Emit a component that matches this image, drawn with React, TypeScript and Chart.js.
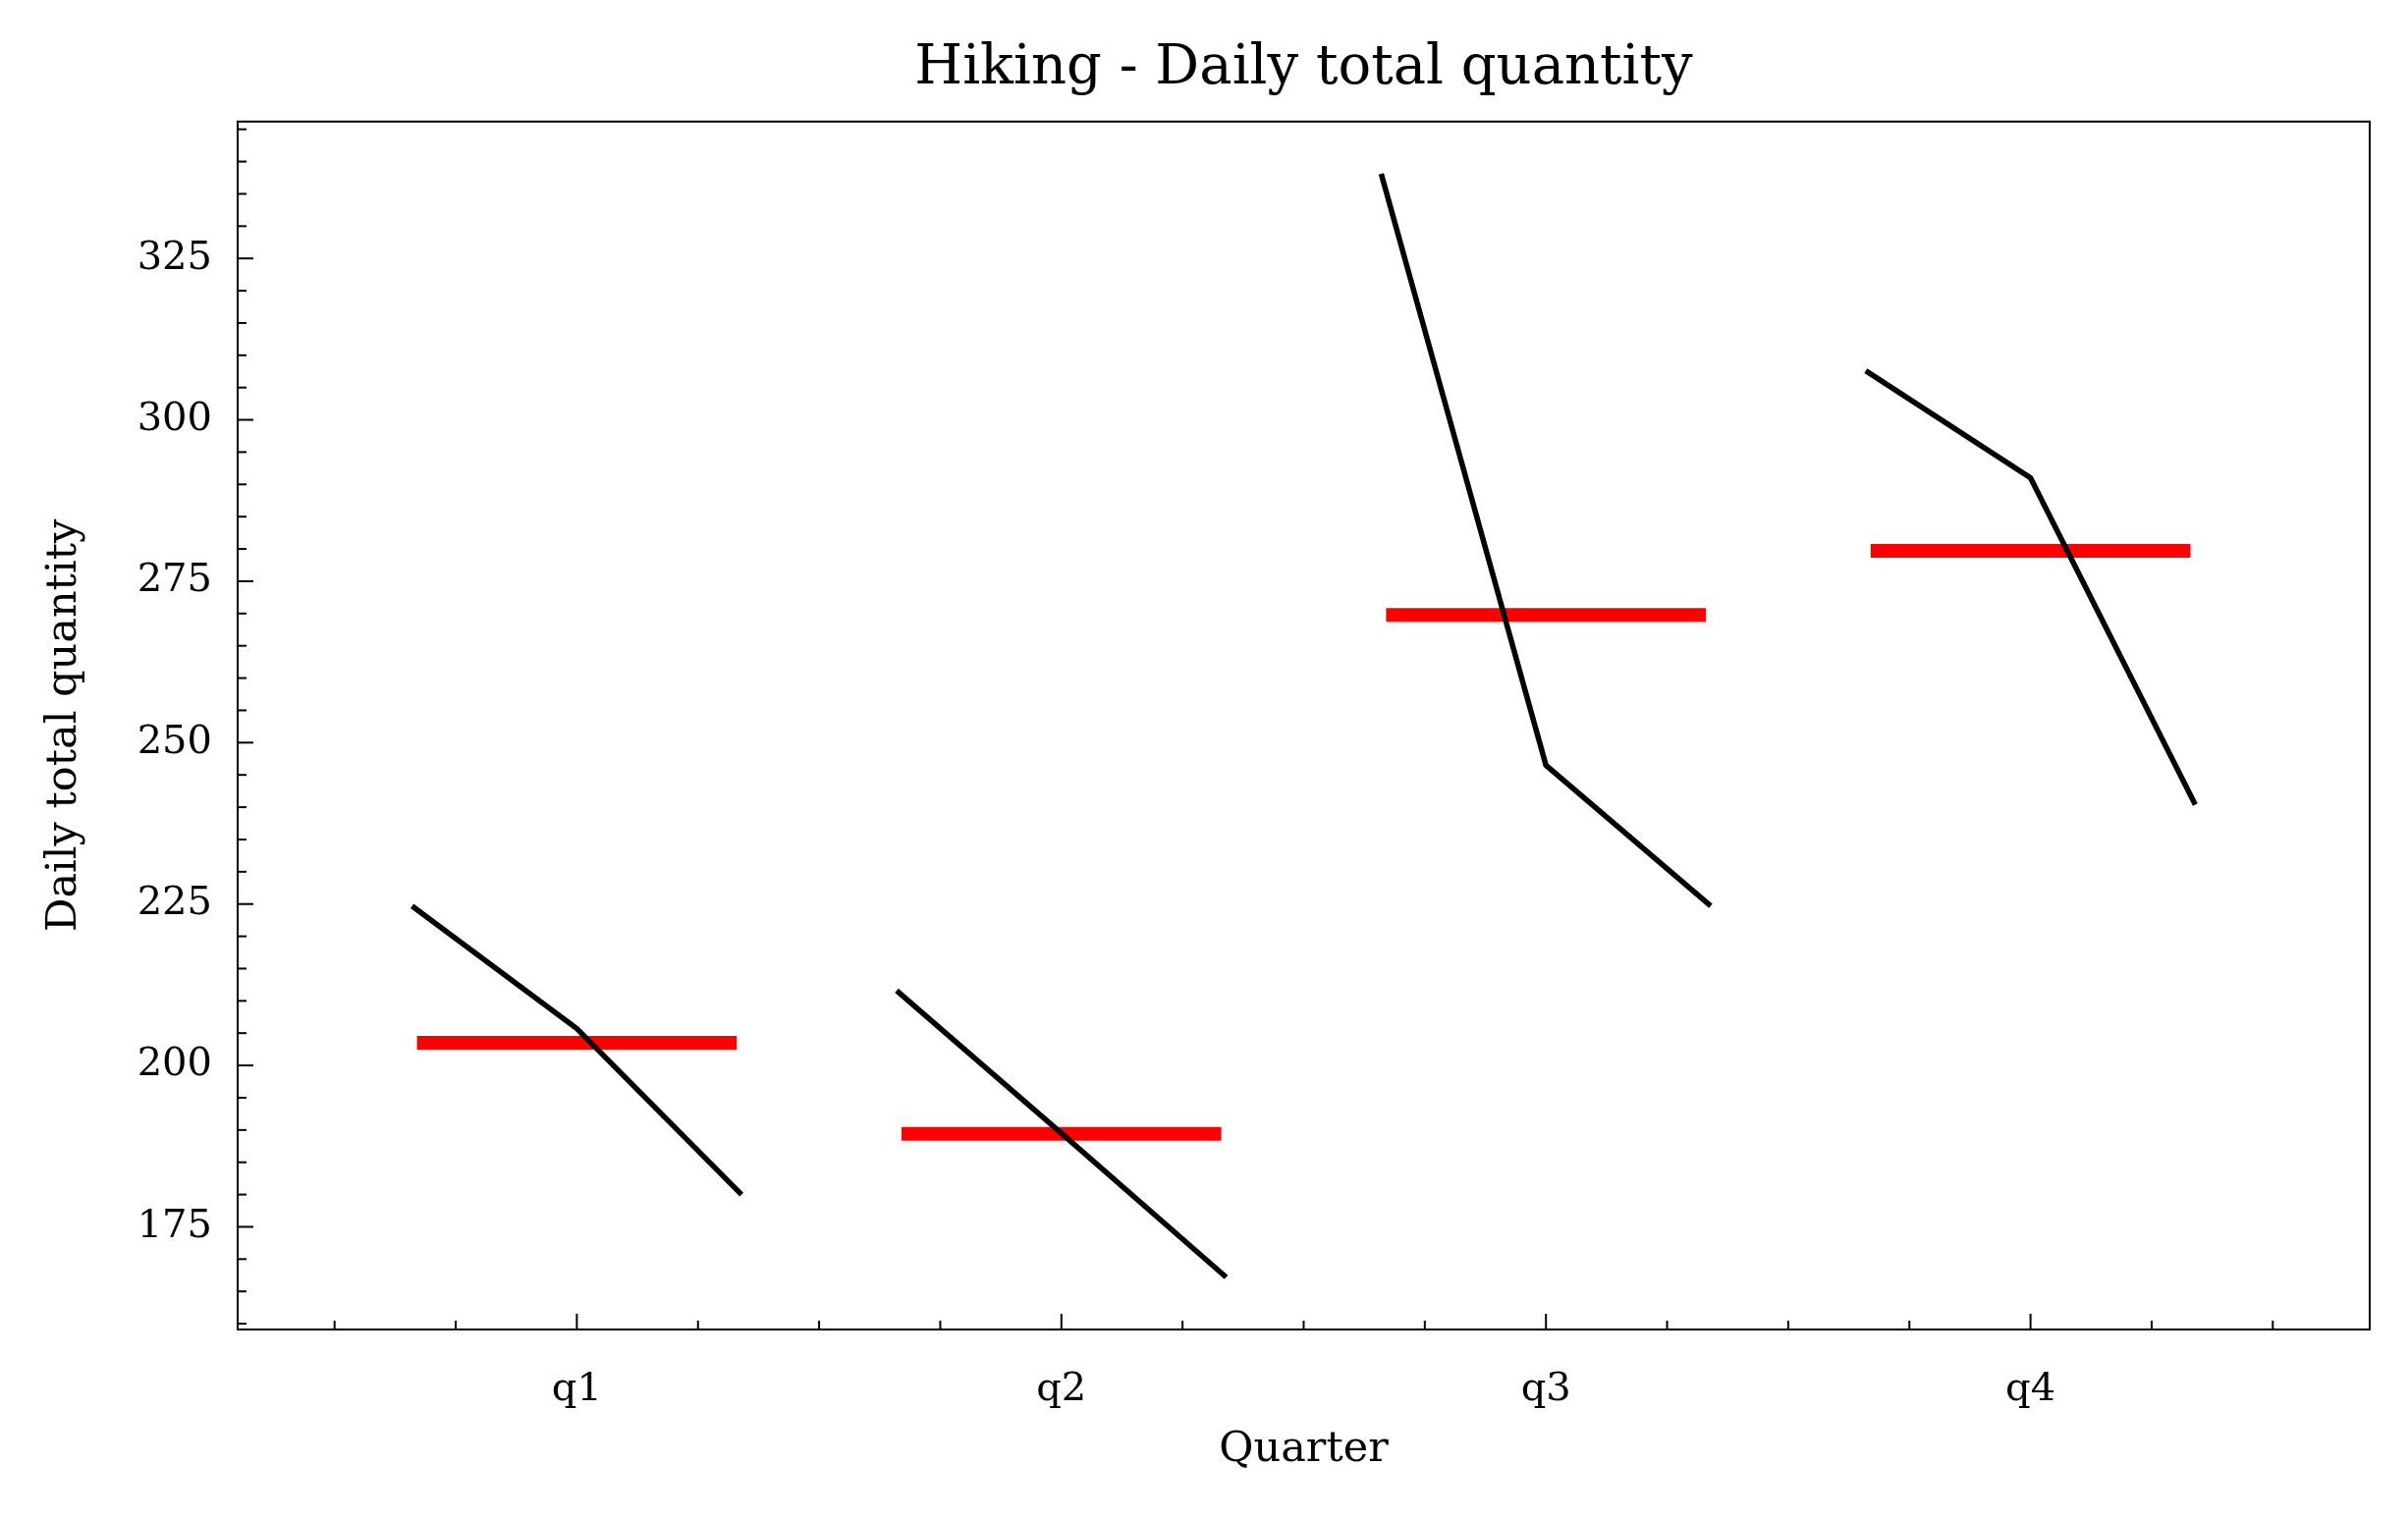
import React, { useEffect, useRef } from "react";
import { Chart, registerables } from "chart.js";

Chart.register(...registerables);

const quarters = ["q1", "q2", "q3", "q4"];
const offsets = [-0.34, 0, 0.34];
const q1Values = [224.7, 205.7, 180.0];
const q2Values = [211.6, 189.5, 167.2];
const q3Values = [338.1, 246.5, 224.7];
const q4Values = [307.6, 291.0, 240.4];
const quarterMeans = [203.5, 189.4, 269.8, 279.7];
const titleText = "Hiking - Daily total quantity";

const FONT = "'DejaVu Serif', serif";

const tickPlugin = {
  id: "inwardTicks",
  afterDraw(chart: any) {
    const { ctx, chartArea: a, scales } = chart;
    ctx.save();
    ctx.strokeStyle = "#000";
    ctx.lineWidth = 2;
    ctx.strokeRect(a.left, a.top, a.right - a.left, a.bottom - a.top);
    const xs = scales.x;
    for (let v = -0.5; v <= 3.5 + 1e-9; v += 0.25) {
      const px = xs.getPixelForValue(v);
      const major = Math.abs(v - Math.round(v)) < 1e-6;
      ctx.beginPath();
      ctx.moveTo(px, a.bottom);
      ctx.lineTo(px, a.bottom - (major ? 16 : 9));
      ctx.stroke();
    }
    const ys = scales.y;
    for (let v = 160; v <= 345; v += 5) {
      const py = ys.getPixelForValue(v);
      const major = v % 25 === 0;
      ctx.beginPath();
      ctx.moveTo(a.left, py);
      ctx.lineTo(a.left + (major ? 16 : 9), py);
      ctx.stroke();
    }
    // title centred over the plot area
    ctx.fillStyle = "#000";
    ctx.font = `56px ${FONT}`;
    ctx.textAlign = "center";
    ctx.textBaseline = "middle";
    ctx.fillText(titleText, (a.left + a.right) / 2, 70);
    ctx.restore();
  },
};

const series = [q1Values, q2Values, q3Values, q4Values];

export default function App() {
  const ref = useRef<HTMLCanvasElement>(null);
  useEffect(() => {
    document.body.style.margin = "0";
    const datasets: any[] = [];
    series.forEach((vals, i) => {
      datasets.push({
        data: vals.map((y, j) => ({ x: i + offsets[j], y })),
        borderColor: "#000",
        borderWidth: 5.5,
        pointRadius: 0,
        showLine: true,
        fill: false,
      });
      datasets.push({
        data: [
          { x: i - 0.33, y: quarterMeans[i] },
          { x: i + 0.33, y: quarterMeans[i] },
        ],
        borderColor: "#ff0000",
        borderWidth: 14,
        pointRadius: 0,
        showLine: true,
        fill: false,
      });
    });
    const chart = new Chart(ref.current!, {
      type: "scatter",
      data: { datasets },
      plugins: [tickPlugin],
      options: {
        responsive: false,
        animation: false,
        devicePixelRatio: 1,
        layout: { padding: { right: 39, left: 0, top: 0, bottom: 0 } },
        plugins: {
          legend: { display: false },
          tooltip: { enabled: false },
          title: {
            display: true,
            text: titleText,
            color: "rgba(0,0,0,0)",
            font: { family: FONT, size: 44, weight: "normal" },
            padding: { top: 40, bottom: 31 },
          },
        },
        scales: {
          x: {
            type: "linear",
            min: -0.7,
            max: 3.7,
            grid: { display: false },
            border: { display: false },
            afterBuildTicks: (s: any) => {
              s.ticks = [0, 1, 2, 3].map((v) => ({ value: v }));
            },
            afterFit: (s: any) => {
              s.height = 193;
            },
            ticks: {
              color: "#000",
              padding: 30,
              font: { family: FONT, size: 40 },
              callback: (v: any) => quarters[Math.round(v)] ?? "",
              maxRotation: 0,
            },
            title: {
              display: true,
              text: "Quarter",
              color: "#000",
              font: { family: FONT, size: 43 },
              padding: { top: 0, bottom: 44 },
            },
          },
          y: {
            min: 159.1,
            max: 346.2,
            grid: { display: false },
            border: { display: false },
            afterBuildTicks: (s: any) => {
              s.ticks = [175, 200, 225, 250, 275, 300, 325].map((v) => ({ value: v }));
            },
            afterFit: (s: any) => {
              s.width = 242;
            },
            ticks: {
              color: "#000",
              padding: 18,
              font: { family: FONT, size: 40 },
            },
            title: {
              display: true,
              text: "Daily total quantity",
              color: "#000",
              font: { family: FONT, size: 43 },
              padding: { top: 40, bottom: 0 },
            },
          },
        },
      },
    } as any);
    return () => chart.destroy();
  }, []);
  return (
    <div style={{ width: 2452, height: 1547, background: "#fff" }}>
      <canvas ref={ref} width={2452} height={1547} />
    </div>
  );
}
